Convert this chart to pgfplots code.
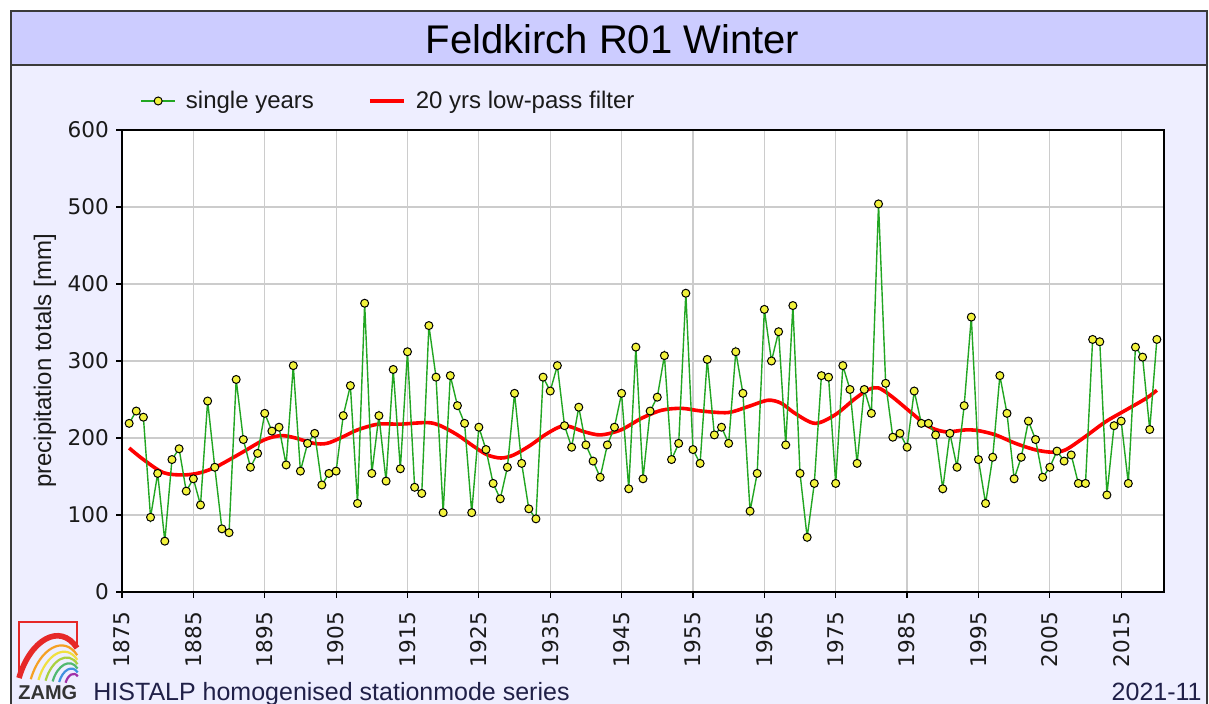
\documentclass[border=0pt]{standalone}
\usepackage{pgfplots}
\pgfplotsset{compat=1.18}
\usepackage{pgfplotstable}
\usepackage{fontspec}
\setmainfont{Liberation Sans}
\newfontfamily\dejavu{DejaVu Sans}
\definecolor{bgc}{HTML}{EEEEFF}
\definecolor{titlebg}{HTML}{CCCCFF}
\definecolor{framec}{HTML}{3A3A3A}
\definecolor{gridc}{HTML}{CCCCCC}
\definecolor{ygreen}{HTML}{22A622}
\definecolor{myyellow}{HTML}{F2F23C}
\definecolor{textc}{HTML}{1A1A1A}
\definecolor{navy}{HTML}{202048}
\definecolor{lred}{HTML}{E62828}
\definecolor{lorange}{HTML}{F5A023}
\definecolor{lyellow}{HTML}{F0E040}
\definecolor{llgreen}{HTML}{A8D040}
\definecolor{lgreen}{HTML}{50B870}
\definecolor{lblue}{HTML}{4090E0}
\definecolor{lpurple}{HTML}{A030A8}

\pgfplotstableread{
year val
1876 219
1877 235
1878 227
1879 97
1880 154
1881 66
1882 172
1883 186
1884 131
1885 147
1886 113
1887 248
1888 162
1889 82
1890 77
1891 276
1892 198
1893 162
1894 180
1895 232
1896 209
1897 214
1898 165
1899 294
1900 157
1901 193
1902 206
1903 139
1904 154
1905 157
1906 229
1907 268
1908 115
1909 375
1910 154
1911 229
1912 144
1913 289
1914 160
1915 312
1916 136
1917 128
1918 346
1919 279
1920 103
1921 281
1922 242
1923 219
1924 103
1925 214
1926 185
1927 141
1928 121
1929 162
1930 258
1931 167
1932 108
1933 95
1934 279
1935 261
1936 294
1937 216
1938 188
1939 240
1940 191
1941 170
1942 149
1943 191
1944 214
1945 258
1946 134
1947 318
1948 147
1949 235
1950 253
1951 307
1952 172
1953 193
1954 388
1955 185
1956 167
1957 302
1958 204
1959 214
1960 193
1961 312
1962 258
1963 105
1964 154
1965 367
1966 300
1967 338
1968 191
1969 372
1970 154
1971 71
1972 141
1973 281
1974 279
1975 141
1976 294
1977 263
1978 167
1979 263
1980 232
1981 504
1982 271
1983 201
1984 206
1985 188
1986 261
1987 219
1988 219
1989 204
1990 134
1991 206
1992 162
1993 242
1994 357
1995 172
1996 115
1997 175
1998 281
1999 232
2000 147
2001 175
2002 222
2003 198
2004 149
2005 162
2006 183
2007 170
2008 178
2009 141
2010 141
2011 328
2012 325
2013 126
2014 216
2015 222
2016 141
2017 318
2018 305
2019 211
2020 328
}\single

\pgfplotstableread{
year val
1876 187
1878 172
1880.8 155
1883.6 152
1886 155
1888.3 163
1891.6 180
1894.9 197.5
1897.2 203
1899.1 200.5
1901.9 193
1903.7 193
1905.6 200
1908 210.5
1910.9 218
1914 218
1917.8 220
1919.6 216
1922 204
1924.3 189
1926.2 178
1928.1 174
1929.9 178
1932.3 191
1934.6 206
1937 216
1939.8 208
1942.1 204
1944.9 210.5
1947.8 225.6
1950.6 236
1953.4 238.5
1956.2 235
1959.9 233
1962.7 240.7
1965.5 249
1967.4 245
1969.3 232
1972.1 219
1974.9 230
1977.7 251
1979.6 263
1981 265
1982.9 253.6
1985.7 232
1988 215
1990.4 208
1993.2 210.5
1995 209.5
1997.4 204
2000.2 193
2003 184.6
2005.3 181.6
2007.2 184.6
2010 202
2012.8 221
2015.6 236
2018.5 251.5
2020 262
}\filter

\begin{document}
\begin{tikzpicture}
\useasboundingbox (0,0) rectangle (604.5pt,352pt);
% frame and title band
\fill[bgc] (5.5pt,-5pt) rectangle (603.5pt,346.5pt);
\fill[titlebg] (5.5pt,319.5pt) rectangle (603.5pt,346.5pt);
\draw[framec, line width=1pt] (5.5pt,319.5pt) -- (603.5pt,319.5pt);
\draw[framec, line width=1pt] (5.5pt,-5pt) -- (5.5pt,346.5pt) -- (603.5pt,346.5pt) -- (603.5pt,-5pt);
\node[font=\fontsize{20}{24}\selectfont, text=black, inner sep=0pt] at (306.25pt,332.5pt) {Feldkirch R01 Winter};

\begin{axis}[
  at={(61pt,56pt)}, anchor=south west,
  scale only axis, width=521pt, height=231pt,
  xmin=1875, xmax=2021, ymin=0, ymax=600,
  xtick={1875,1885,...,2015},
  ytick={0,100,...,600},
  grid=major,
  major grid style={gridc, line width=0.6pt},
  axis line style={black, line width=0.8pt},
  tick align=outside, tick pos=left,
  major tick length=3pt,
  tick style={black, line width=0.6pt},
  /pgf/number format/assume math mode=true,
  /pgf/number format/1000 sep={},
  xticklabel shift=3.5pt,
  xticklabel style={rotate=90, anchor=east, font=\dejavu\fontsize{10.8}{12}\selectfont, text=textc},
  yticklabel style={font=\dejavu\fontsize{10.8}{12}\selectfont, text=textc},
  ylabel={precipitation totals [mm]},
  every axis y label/.style={at={([xshift=-38.5pt]axis description cs:0,0.5)}, rotate=90, anchor=center, font=\fontsize{12}{14}\selectfont, text=textc},
  axis background/.style={fill=white},
  legend style={at={(axis description cs:0,1)}, anchor=west, xshift=6pt, yshift=14.5pt,
    draw=none, fill=none, font=\fontsize{12}{14}\selectfont, text=textc,
    /tikz/every odd column/.append style={column sep=3pt},
    /tikz/every even column/.append style={column sep=25pt}},
  legend columns=2,
  legend cell align=left,
]
\addlegendimage{ygreen, line width=0.7pt, mark=*, mark size=2pt, mark options={fill=myyellow, draw=black, line width=0.5pt}}
\addlegendentry{single years}
\addlegendimage{red, line width=1.8pt}
\addlegendentry{20 yrs low-pass filter}
\addplot[red, line width=1.8pt, smooth, forget plot] table[x=year, y=val] {\filter};
\addplot[ygreen, line width=0.7pt, mark=*, mark size=2pt, mark options={fill=myyellow, draw=black, line width=0.5pt}, forget plot] table[x=year, y=val] {\single};
\end{axis}

% bottom texts
\node[anchor=base west, font=\fontsize{12.5}{14}\selectfont, text=navy, inner sep=0pt] at (46.5pt,1.6pt) {HISTALP homogenised stationmode series};
\node[anchor=base east, font=\fontsize{12.5}{14}\selectfont, text=navy, inner sep=0pt] at (601pt,1.6pt) {2021-11};

% ZAMG logo (pixel units)
\begin{scope}[x=0.5pt, y=-0.5pt, shift={(0pt,352pt)}]
  \draw[lred, line width=1pt] (19,672) -- (19,622) -- (77,622) -- (77,645);
  \begin{scope}[shift={(78,684)}]
    \draw[lred, line width=2.8pt] (-59,-6) .. controls (-48,-44) and (-18,-62) .. (-1,-36);
    \begin{scope}[scale=0.80]\draw[lorange, line width=1.1pt] (-59,-6) .. controls (-48,-44) and (-18,-62) .. (-1,-36);\end{scope}
    \begin{scope}[scale=0.67]\draw[lyellow, line width=1.1pt] (-59,-6) .. controls (-48,-44) and (-18,-62) .. (-1,-36);\end{scope}
    \begin{scope}[scale=0.55]\draw[llgreen, line width=1.1pt] (-59,-6) .. controls (-48,-44) and (-18,-62) .. (-1,-36);\end{scope}
    \begin{scope}[scale=0.43]\draw[lgreen, line width=1.1pt] (-59,-6) .. controls (-48,-44) and (-18,-62) .. (-1,-36);\end{scope}
    \begin{scope}[scale=0.32]\draw[lblue, line width=1.1pt] (-59,-6) .. controls (-48,-44) and (-18,-62) .. (-1,-36);\end{scope}
    \begin{scope}[scale=0.21]\draw[lpurple, line width=1.1pt] (-59,-6) .. controls (-48,-44) and (-18,-62) .. (-1,-36);\end{scope}
  \end{scope}
\end{scope}
\node[anchor=base west, font=\bfseries\fontsize{10}{12}\selectfont, text=black!80, inner sep=0pt] at (9pt,2pt) {ZAMG};
\end{tikzpicture}
\end{document}
